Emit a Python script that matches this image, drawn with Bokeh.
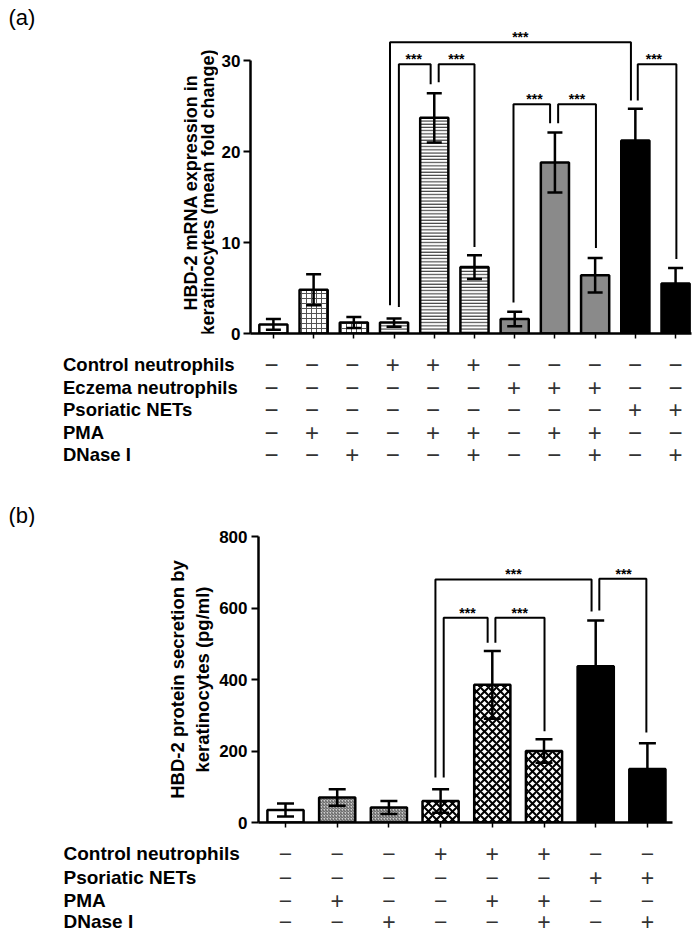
import math
from bokeh.plotting import figure
from bokeh.models import ColumnDataSource, Whisker, TeeHead, FixedTicker, Range1d
from bokeh.layouts import row
from bokeh.embed import file_html
from bokeh.resources import INLINE
from bokeh.core.properties import value

FONT = "Liberation Sans"

# ---------------- Panel (a): HBD-2 mRNA expression ----------------
A_MEAN = [1.0, 4.8, 1.2, 1.2, 23.7, 7.3, 1.6, 18.8, 6.4, 21.2, 5.5]
A_SD = [0.6, 1.7, 0.6, 0.45, 2.7, 1.3, 0.8, 3.3, 1.9, 3.5, 1.7]
A_ROWS = ["Control neutrophils", "Eczema neutrophils", "Psoriatic NETs", "PMA", "DNase I"]
A_SIGNS = ["---+++-----",
           "------+++--",
           "---------++",
           "-+--++-++--",
           "--+--+--+-+"]
A_YTICKS = [0, 10, 20, 30]
A_YLABEL = ["HBD-2 mRNA expression in", "keratinocytes (mean fold change)"]
# significance brackets: left x, right x, top, left leg end, right leg end, star x
A_BR_X1 = [3.90, 4.12, 5.11, 6.97, 8.08, 10.06]
A_BR_X2 = [9.89, 4.91, 6.00, 7.88, 9.02, 11.02]
A_BR_TOP = [32.0, 29.6, 29.6, 25.2, 25.2, 29.6]
A_BR_Y1 = [3.1, 2.9, 27.6, 3.4, 23.1, 25.6]
A_BR_Y2 = [25.6, 27.4, 9.5, 23.1, 9.4, 8.2]
A_STAR_X = [7.14, 4.49, 5.55, 7.49, 8.55, 10.46]
A_BR_TEXT = ["***"] * 6

# ---------------- Panel (b): HBD-2 protein secretion ----------------
B_MEAN = [35, 70, 42, 60, 385, 200, 437, 150]
B_SD = [18, 23, 18, 33, 95, 33, 128, 72]
B_ROWS = ["Control neutrophils", "Psoriatic NETs", "PMA", "DNase I"]
B_SIGNS = ["---+++--",
           "------++",
           "-+--++--",
           "--+--+-+"]
B_YTICKS = [0, 200, 400, 600, 800]
B_YLABEL = "HBD-2 protein secretion by\nkeratinocytes (pg/ml)"
B_BR_X1 = [3.90, 4.06, 5.06, 7.07]
B_BR_X2 = [6.92, 4.91, 6.01, 7.98]
B_BR_TOP = [680, 573, 573, 682]
B_BR_Y1 = [126, 126, 503, 593]
B_BR_Y2 = [590, 503, 255, 252]
B_STAR_X = [5.41, 4.52, 5.53, 7.54]
B_BR_TEXT = ["***"] * 4

PANEL_TAGS = ["(a)", "(b)"]

# ---------------- styles ----------------
A_FILL = ["white", "white", "white", "white", "white", "white", "#8a8a8a", "#8a8a8a", "#8a8a8a", "black", "black"]
A_HATCH = [" ", "+", "+", "-", "-", "-", " ", " ", " ", " ", " "]
A_HATCH_SCALE = [4, 5, 5, 3.2, 3.2, 3.2, 4, 4, 4, 4, 4]
A_HATCH_WEIGHT = [1, 1, 1, 1, 1, 1, 1, 1, 1, 1, 1]
A_HATCH_COLOR = ["black", "#555555", "#555555", "#222222", "#222222", "#222222", "black", "black", "black", "black", "black"]

B_FILL = ["white", "#cfcfcf", "#cfcfcf", "white", "white", "white", "black", "black"]
B_HATCH = [" ", "/", "/", "x", "x", "x", " ", " "]
B_HATCH_SCALE = [4, 3, 3, 8, 8, 8, 4, 4]
B_HATCH_WEIGHT = [1, 1, 1, 2, 2, 2, 1, 1]
B_HATCH_COLOR = ["black", "#555555", "#555555", "black", "black", "black", "black", "black"]


def blank_fig(width, height, x_range, y_range, top=0, bottom=0):
    f = figure(width=width, height=height, x_range=x_range, y_range=y_range,
               output_backend="svg", toolbar_location=None,
               x_axis_location=None, y_axis_location=None,
               min_border_left=0, min_border_right=0,
               min_border_top=top, min_border_bottom=bottom)
    f.outline_line_color = None
    f.grid.visible = False
    return f


def bar_fig(mean, sd, fill, hatch, hscale, hweight, hcolor,
            br_x1, br_x2, br_top, br_y1, br_y2, star_x, br_text,
            yticks, ylabel, geo, tee):
    n = len(mean)
    x0, x1 = geo["xr"]
    y0, y1 = geo["yr"]
    fh = geo["height"] - geo["top"] - geo["bottom"]
    ppy = fh / (y1 - y0)

    p = figure(width=geo["width"], height=geo["height"],
               x_range=Range1d(x0, x1), y_range=Range1d(y0, y1),
               output_backend="svg", toolbar_location=None,
               min_border_left=geo["left"], min_border_right=geo["right"],
               min_border_top=geo["top"], min_border_bottom=geo["bottom"])
    p.outline_line_color = None
    p.grid.visible = False

    xs = list(range(1, n + 1))
    src = ColumnDataSource(dict(
        x=xs, top=mean,
        lower=[m - s for m, s in zip(mean, sd)],
        upper=[m + s for m, s in zip(mean, sd)],
        fill=fill, hatch=hatch, hscale=hscale, hweight=hweight, hcolor=hcolor))
    p.vbar(x="x", top="top", width=0.7, bottom=0, source=src,
           fill_color="fill", line_color="black", line_width=2.5,
           hatch_pattern="hatch", hatch_scale="hscale", hatch_weight="hweight",
           hatch_color="hcolor")
    p.add_layout(Whisker(source=src, base="x", lower="lower", upper="upper",
                         dimension="height", line_color="black", line_width=2.5, level="overlay",
                         upper_head=TeeHead(size=tee, line_width=2.5, line_color="black"),
                         lower_head=TeeHead(size=tee, line_width=2.5, line_color="black")))

    # significance brackets
    bxs = [[a, a, b, b] for a, b in zip(br_x1, br_x2)]
    bys = [[ya, t, t, yb] for ya, t, yb in zip(br_y1, br_top, br_y2)]
    p.multi_line(xs=bxs, ys=bys, line_color="black", line_width=2)
    star_src = ColumnDataSource(dict(x=star_x, y=[t + 5 / ppy for t in br_top], text=br_text))
    p.text(x="x", y="y", text="text", source=star_src, text_align="center",
           text_baseline="alphabetic", text_font=value(FONT),
           text_font_size="14px", text_font_style="bold", text_color="black")

    ya = p.yaxis[0]
    ya.ticker = FixedTicker(ticks=yticks)
    ya.bounds = (yticks[0], yticks[-1])
    if ylabel:
        ya.axis_label = ylabel
        ya.axis_label_text_font = FONT
        ya.axis_label_text_font_size = "18.5px"
        ya.axis_label_text_font_style = "bold"
        ya.axis_label_text_color = "black"
        ya.axis_label_standoff = 3
    ya.major_label_text_font = FONT
    ya.major_label_text_font_size = "17px"
    ya.major_label_text_font_style = "bold"
    ya.major_label_text_color = "black"
    ya.major_label_standoff = geo["tick_standoff"]
    ya.axis_line_width = 2.5
    ya.axis_line_color = "black"
    ya.major_tick_line_width = 2
    ya.major_tick_line_color = "black"
    ya.major_tick_out = 7
    ya.major_tick_in = 0
    ya.minor_tick_line_color = None

    xa = p.xaxis[0]
    xa.ticker = FixedTicker(ticks=xs)
    xa.major_label_overrides = {i: "" for i in xs}
    xa.major_label_text_font_size = "1px"
    xa.major_label_standoff = 0
    xa.axis_line_width = 2.5
    xa.axis_line_color = "black"
    xa.major_tick_line_width = 1.5
    xa.major_tick_line_color = "black"
    xa.major_tick_out = 5
    xa.major_tick_in = 0
    xa.minor_tick_line_color = None
    return p


def table_fig(rows, signs, page_top, height, bar0_px, step_px, row_pages, label_px,
              row_size, sign_size, tags=()):
    # x data = bar index (aligned with the bars above); y data = page pixel rows
    xr = Range1d(1 + (0 - bar0_px) / step_px, 1 + (700 - bar0_px) / step_px)
    yr = Range1d(page_top + height, page_top)
    t = blank_fig(700, height, xr, yr)
    lab = ColumnDataSource(dict(x=[1 + (label_px - bar0_px) / step_px] * len(rows),
                                y=row_pages, text=rows))
    t.text(x="x", y="y", text="text", source=lab, text_align="left", text_baseline="middle",
           text_font=value(FONT), text_font_size=row_size, text_font_style="bold",
           text_color="black")
    sx, sy, st = [], [], []
    for r, s in enumerate(signs):
        for i, ch in enumerate(s):
            sx.append(i + 1)
            sy.append(row_pages[r])
            st.append("+" if ch == "+" else "\u2212")
    t.text(x=sx, y=sy, text=st, text_align="center", text_baseline="middle",
           text_font=value(FONT), text_font_size=sign_size, text_color="#333333")
    for txt, px, py in tags:
        t.text(x=[1 + (px - bar0_px) / step_px], y=[py], text=[txt], text_align="left",
               text_baseline="middle", text_font=value(FONT), text_font_size="22px",
               text_color="black")
    return t


# ---------------- panel (a) ----------------
A_TOP_H = 351
A_FRAME_TOP = 5     # page y of frame top
A_FRAME_BOT = 333   # page y of value 0
A_BOTTOM = A_TOP_H - A_FRAME_BOT
PPY_A = 9.1         # pixels per unit
TAG_W = 218
tag_a = blank_fig(TAG_W, A_TOP_H, Range1d(0, TAG_W), Range1d(A_FRAME_BOT, A_FRAME_TOP),
                  top=A_FRAME_TOP, bottom=A_BOTTOM)
tag_a.text(x=[8], y=[17], text=[PANEL_TAGS[0]], text_align="left", text_baseline="middle",
           text_font=value(FONT), text_font_size="22px", text_color="black")
tag_a.text(x=[190, 207], y=[192, 192], text=A_YLABEL, angle=math.pi / 2,
           text_align="center", text_baseline="middle", text_font=value(FONT),
           text_font_size="18px", text_font_style="bold", text_color="black")

geo_a = dict(width=700 - TAG_W, height=A_TOP_H, left=248 - TAG_W, right=9,
             top=A_FRAME_TOP, bottom=A_BOTTOM, tick_standoff=3,
             xr=(1 + (248 - 271) / 40.4, 1 + (691 - 271) / 40.4),
             yr=(0, (A_FRAME_BOT - A_FRAME_TOP) / PPY_A))
bar_a = bar_fig(A_MEAN, A_SD, A_FILL, A_HATCH, A_HATCH_SCALE, A_HATCH_WEIGHT, A_HATCH_COLOR,
                A_BR_X1, A_BR_X2, A_BR_TOP, A_BR_Y1, A_BR_Y2, A_STAR_X, A_BR_TEXT,
                A_YTICKS, None, geo_a, 15)
tab_a = table_fig(A_ROWS, A_SIGNS, A_TOP_H, 527 - A_TOP_H, 271, 40.4,
                  [364, 386.5, 409, 431.5, 454], 62.5, "18.5px", "24px",
                  tags=[(PANEL_TAGS[1], 8, 515)])

# ---------------- panel (b) ----------------
geo_b = dict(width=700, height=313, left=258, right=28, top=9, bottom=18, tick_standoff=4,
             xr=(1 + (258 - 285) / 51.7, 1 + (672 - 285) / 51.7), yr=(0, 800))
bar_b = bar_fig(B_MEAN, B_SD, B_FILL, B_HATCH, B_HATCH_SCALE, B_HATCH_WEIGHT, B_HATCH_COLOR,
                B_BR_X1, B_BR_X2, B_BR_TOP, B_BR_Y1, B_BR_Y2, B_STAR_X, B_BR_TEXT,
                B_YTICKS, B_YLABEL, geo_b, 17)
tab_b = table_fig(B_ROWS, B_SIGNS, 840, 95, 285, 51.7,
                  [853, 876.5, 899.5, 921], 63, "19px", "23px")

roots = [row(tag_a, bar_a, spacing=0), tab_a, bar_b, tab_b]
open("out.html", "w").write(file_html(roots, INLINE))
